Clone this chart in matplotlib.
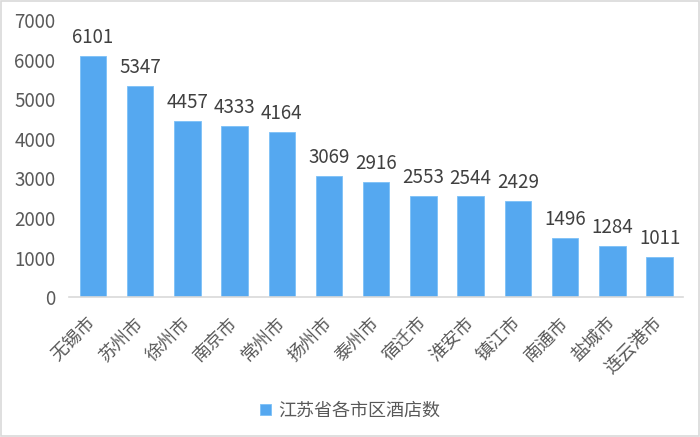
import numpy as np
import matplotlib.pyplot as plt
import matplotlib.transforms as mtransforms
from matplotlib.patches import Rectangle

plt.rcParams['font.family'] = ['Noto Sans CJK SC', 'DejaVu Sans']

# data
cities = ['无锡市', '苏州市', '徐州市', '南京市', '常州市', '扬州市', '泰州市',
          '宿迁市', '淮安市', '镇江市', '南通市', '盐城市', '连云港市']
hotels = [6101, 5347, 4457, 4333, 4164, 3069, 2916, 2553, 2544, 2429, 1496, 1284, 1011]
series_name = '江苏省各市区酒店数'

fig = plt.figure(figsize=(7, 4.37), dpi=100)
ax = fig.add_axes([0.099, 0.320, 0.877, 0.634])

x = np.arange(len(cities))
bars = ax.bar(x, hotels, width=0.56, color='#55a8f0', edgecolor='#7cc0f7',
              linewidth=0.6, label=series_name)
for xi, v in zip(x, hotels):
    ax.text(xi, v + 200, str(v), ha='center', va='bottom', fontsize=13.5,
            color='#404040')

ax.set_xlim(-0.5, len(cities) - 0.5)
ax.set_ylim(0, 7000)
ax.set_yticks(range(0, 7001, 1000))
ax.tick_params(axis='y', length=0, labelsize=13.5, labelcolor='#595959', pad=10)
ax.tick_params(axis='x', length=0, labelsize=13, labelcolor='#595959', pad=12)
ax.set_xticks(x)
ax.set_xticklabels(cities, rotation=45, ha='right', rotation_mode='anchor')
shift = mtransforms.ScaledTranslation(-6 / 100, 0, fig.dpi_scale_trans)
for lab in ax.get_xticklabels():
    lab.set_transform(lab.get_transform() + shift)
for s in ['top', 'right', 'left']:
    ax.spines[s].set_visible(False)
ax.spines['bottom'].set_color('#d9d9d9')
ax.spines['bottom'].set_linewidth(1.2)

fig.legend(handles=[bars], labels=[series_name], loc='center',
           bbox_to_anchor=(0.5, 0.06), frameon=False, fontsize=13,
           handlelength=0.6, handleheight=0.6, handletextpad=0.4,
           labelcolor='#595959')

fig.patches.append(Rectangle((0.002, 0.003), 0.996, 0.994, transform=fig.transFigure,
                             fill=False, edgecolor='#d9d9d9', linewidth=1.2))

fig.savefig('out.png', dpi=100)
